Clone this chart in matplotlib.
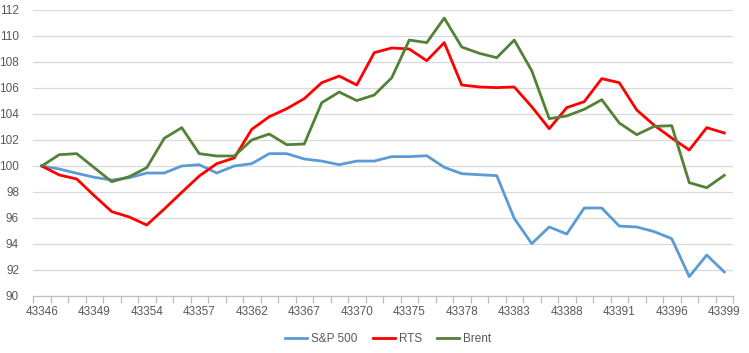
import matplotlib
matplotlib.use("Agg")
import matplotlib.pyplot as plt
import numpy as np

# excel date serials (trading days)
dates = [43346, 43347, 43348, 43349, 43350,
         43353, 43354, 43355, 43356, 43357,
         43360, 43361, 43362, 43363, 43364,
         43367, 43368, 43369, 43370, 43371,
         43374, 43375, 43376, 43377, 43378,
         43381, 43382, 43383, 43384, 43385,
         43388, 43389, 43390, 43391, 43392,
         43395, 43396, 43397, 43398, 43399]

sp500 = [100.0, 99.77, 99.44, 99.13, 98.92, 99.1, 99.46, 99.46, 100.0, 100.1,
         99.46, 100.0, 100.18, 100.95, 100.95, 100.54, 100.38, 100.1, 100.38, 100.38,
         100.72, 100.72, 100.79, 99.9, 99.41, 99.33, 99.26, 95.97, 94.03, 95.31,
         94.77, 96.77, 96.77, 95.38, 95.31, 94.95, 94.41, 91.49, 93.15, 91.85]

rts = [100.0, 99.31, 99.0, 97.72, 96.49, 96.08, 95.46, 96.69, 97.97, 99.23,
       100.18, 100.62, 102.82, 103.79, 104.41, 105.18, 106.41, 106.92, 106.23, 108.72,
       109.08, 109.0, 108.1, 109.49, 106.23, 106.08, 106.03, 106.08, 104.56, 102.87,
       104.49, 104.95, 106.72, 106.41, 104.31, 103.13, 102.15, 101.23, 102.95, 102.54]

brent = [100.0, 100.87, 100.95, 99.87, 98.79, 99.18, 99.87, 102.13, 102.95, 100.95,
         100.77, 100.77, 102.0, 102.46, 101.64, 101.69, 104.87, 105.69, 105.03, 105.46,
         106.79, 109.69, 109.49, 111.38, 109.15, 108.67, 108.33, 109.69, 107.33, 103.64,
         103.85, 104.36, 105.1, 103.31, 102.41, 103.05, 103.1, 98.72, 98.33, 99.28]

plt.rcParams['font.family'] = ['Liberation Sans', 'DejaVu Sans']

fig = plt.figure(figsize=(7.49, 3.53), dpi=100)
ax = fig.add_axes([33 / 749, 1 - 296 / 353, 700 / 749, 286 / 353])

x = np.arange(len(dates))
ax.plot(x, sp500, color='#5B9BD5', lw=2, label='S&P 500')
ax.plot(x, rts, color='#FF0000', lw=2, label='RTS')
ax.plot(x, brent, color='#538135', lw=2, label='Brent')

ax.set_xlim(-0.5, len(dates) - 0.5)
ax.set_ylim(90, 112)
ax.set_yticks(range(90, 113, 2))
ax.grid(axis='y', color='#D9D9D9', lw=0.9)
ax.set_axisbelow(True)

ax.set_xticks(x[::3])
ax.set_xticklabels([str(d) for d in dates[::3]])
ax.set_xticks(np.arange(-0.5, len(dates), 1), minor=True)
ax.tick_params(axis='x', which='major', length=0, pad=7, labelsize=8.5, labelcolor='#595959')
ax.tick_params(axis='x', which='minor', length=5, color='#BFBFBF', width=0.9)
ax.tick_params(axis='y', length=0, pad=10, labelsize=8.5, labelcolor='#595959')

for s in ['top', 'right', 'left']:
    ax.spines[s].set_visible(False)
ax.spines['bottom'].set_color('#BFBFBF')
ax.spines['bottom'].set_linewidth(0.9)

fig.legend(loc='center', bbox_to_anchor=(388 / 749, 1 - 339 / 353), ncol=3, frameon=False,
           fontsize=8.5, labelcolor='#595959', handlelength=1.9, columnspacing=1.3,
           handletextpad=0.3)

fig.savefig('out.png', dpi=100)
